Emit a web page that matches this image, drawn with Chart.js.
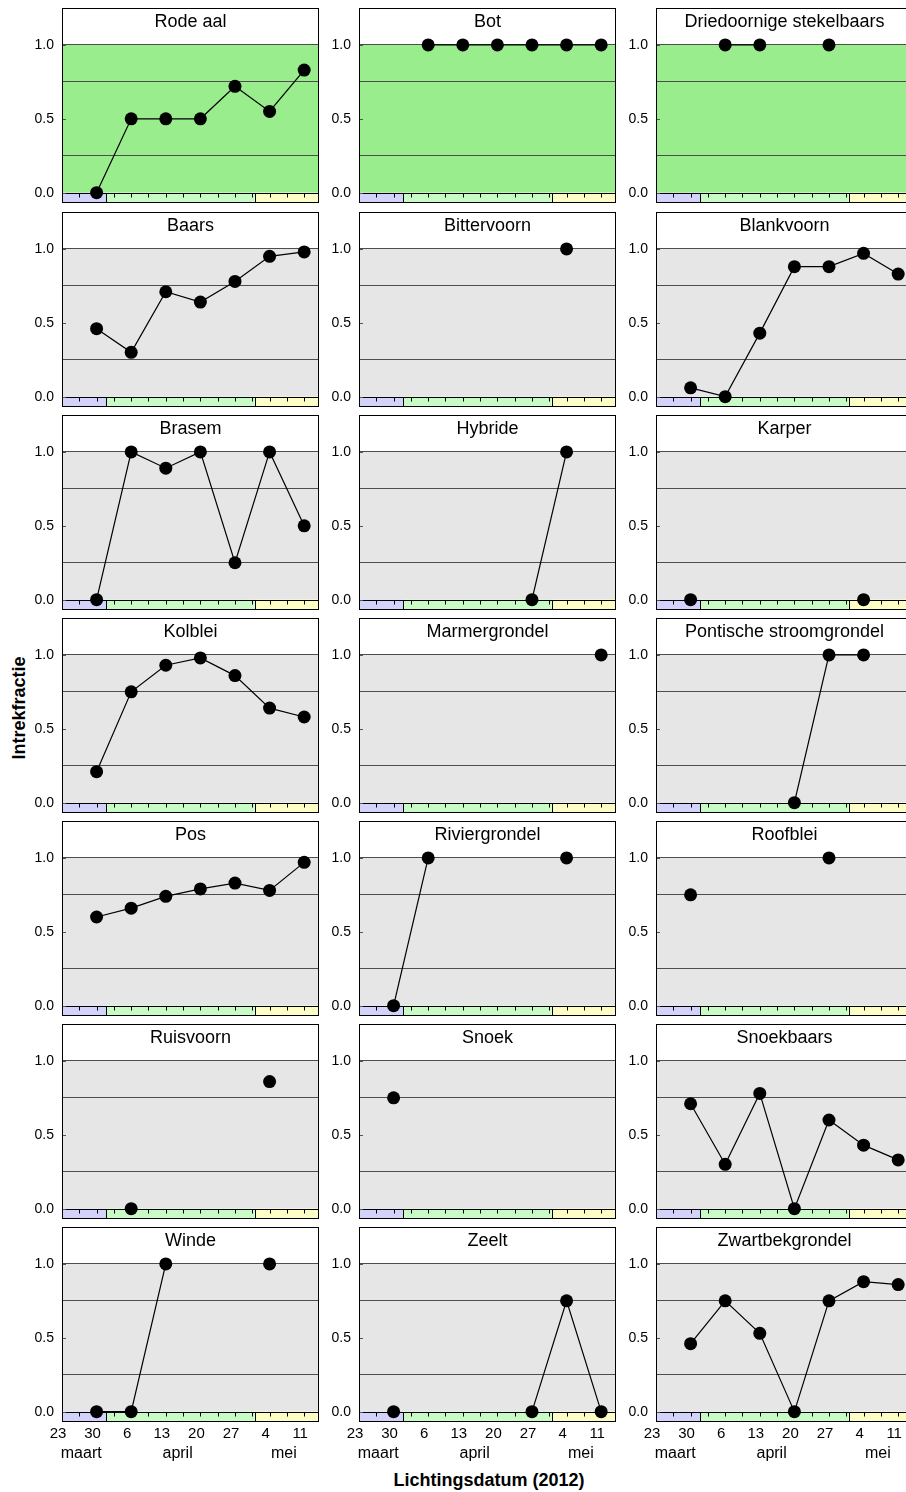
<!DOCTYPE html>
<html>
<head>
<meta charset="utf-8">
<script src="https://cdn.jsdelivr.net/npm/chart.js@4.4.1/dist/chart.umd.min.js"></script>
<style>
  html, body { margin: 0; padding: 0; background: #fff; }
  body { position: relative; width: 906px; height: 1492px; overflow: hidden; }
  canvas.panel { position: absolute; }
  .axis-title {
    position: absolute;
    font: bold 18px "Liberation Sans", Arial, sans-serif;
    color: #000;
    white-space: nowrap;
    transform: translate(-50%, -50%);
  }
  #ytitle { left: 19px; top: 708px; transform: translate(-50%, -50%) rotate(-90deg); }
  #xtitle { left: 489px; top: 1480px; }
</style>
</head>
<body>
<div class="axis-title" id="ytitle">Intrekfractie</div>
<div class="axis-title" id="xtitle">Lichtingsdatum (2012)</div>
<script>
// Sampling dates (weekly catches) and the axis range
const sampleDates = ['2012-03-30', '2012-04-06', '2012-04-13', '2012-04-20', '2012-04-27', '2012-05-04', '2012-05-11'];
const axisStart = '2012-03-23';
const axisEnd = '2012-05-14';
const tickDates = ['2012-03-23', '2012-03-30', '2012-04-06', '2012-04-13', '2012-04-20', '2012-04-27', '2012-05-04', '2012-05-11'];
const tickLabels = ['23', '30', '6', '13', '20', '27', '4', '11'];
const monthNames = ['maart', 'april', 'mei'];
const monthStarts = ['2012-03-23', '2012-04-01', '2012-05-01'];
const yTickLabels = [0, 0.5, 1];

// Species, in panel order
const speciesNames = [
  'Rode aal', 'Bot', 'Driedoornige stekelbaars',
  'Baars', 'Bittervoorn', 'Blankvoorn',
  'Brasem', 'Hybride', 'Karper',
  'Kolblei', 'Marmergrondel', 'Pontische stroomgrondel',
  'Pos', 'Riviergrondel', 'Roofblei',
  'Ruisvoorn', 'Snoek', 'Snoekbaars',
  'Winde', 'Zeelt', 'Zwartbekgrondel'
];
const highlightedSpecies = ['Rode aal', 'Bot', 'Driedoornige stekelbaars'];

// Intrekfractie per sampling date (null = not caught)
const rodeAal = [0, 0.5, 0.5, 0.5, 0.72, 0.55, 0.83];
const bot = [null, 1, 1, 1, 1, 1, 1];
const driedoornigeStekelbaars = [null, 1, 1, null, 1, null, null];
const baars = [0.46, 0.30, 0.71, 0.64, 0.78, 0.95, 0.98];
const bittervoorn = [null, null, null, null, null, 1, null];
const blankvoorn = [0.06, 0, 0.43, 0.88, 0.88, 0.97, 0.83];
const brasem = [0, 1, 0.89, 1, 0.25, 1, 0.5];
const hybride = [null, null, null, null, 0, 1, null];
const karper = [0, null, null, null, null, 0, null];
const kolblei = [0.21, 0.75, 0.93, 0.98, 0.86, 0.64, 0.58];
const marmergrondel = [null, null, null, null, null, null, 1];
const pontischeStroomgrondel = [null, null, null, 0, 1, 1, null];
const pos = [0.60, 0.66, 0.74, 0.79, 0.83, 0.78, 0.97];
const riviergrondel = [0, 1, null, null, null, 1, null];
const roofblei = [0.75, null, null, null, 1, null, null];
const ruisvoorn = [null, 0, null, null, null, 0.86, null];
const snoek = [0.75, null, null, null, null, null, null];
const snoekbaars = [0.71, 0.30, 0.78, 0, 0.60, 0.43, 0.33];
const winde = [0, 0, 1, null, null, 1, null];
const zeelt = [0, null, null, null, 0, 0.75, 0];
const zwartbekgrondel = [0.46, 0.75, 0.53, 0, 0.75, 0.88, 0.86];

const speciesValues = [
  rodeAal, bot, driedoornigeStekelbaars,
  baars, bittervoorn, blankvoorn,
  brasem, hybride, karper,
  kolblei, marmergrondel, pontischeStroomgrondel,
  pos, riviergrondel, roofblei,
  ruisvoorn, snoek, snoekbaars,
  winde, zeelt, zwartbekgrondel
];

// ---- helpers ----
const DAY = 86400000;
const toDay = s => (Date.parse(s) - Date.parse(axisStart)) / DAY;
const axisDays = toDay(axisEnd);
const sampleDays = sampleDates.map(toDay);
const tickDays = tickDates.map(toDay);
const monthBounds = monthStarts.map(toDay).concat([axisDays]);

const FONT = '"Liberation Sans", Arial, sans-serif';
const Y_MIN = -0.07, Y_MAX = 1.25;
const STRIP_COLORS = ['#d2d2fb', '#c9fbc6', '#fdfdc6'];
const PLOT_GREY = '#e6e6e6';
const PLOT_GREEN = '#99ed8c';
const GRID_COLOR = '#4d4d4d';

// Panel decorations: title strip, coloured month strip, frame, month names
const panelDecor = {
  id: 'panelDecor',
  beforeDraw(chart, args, opts) {
    const { ctx, chartArea: a, scales: { x, y } } = chart;
    const y1 = y.getPixelForValue(1), y0 = y.getPixelForValue(0);
    ctx.save();
    ctx.fillStyle = '#fff';
    ctx.fillRect(a.left, a.top, a.right - a.left, y1 - a.top);
    ctx.fillStyle = opts.plotColor;
    ctx.fillRect(a.left, y1, a.right - a.left, y0 - y1);
    for (let m = 0; m < monthNames.length; m++) {
      const xa = x.getPixelForValue(monthBounds[m]);
      const xb = x.getPixelForValue(monthBounds[m + 1]);
      ctx.fillStyle = STRIP_COLORS[m];
      ctx.fillRect(xa, y0, xb - xa, a.bottom - y0);
    }
    ctx.restore();
  },
  beforeDatasetsDraw(chart, args, opts) {
    const { ctx, chartArea: a, scales: { x, y } } = chart;
    const y0 = Math.round(y.getPixelForValue(0)) + 0.5;
    ctx.save();
    ctx.strokeStyle = '#000';
    ctx.lineWidth = 1;
    // small ticks hanging into the month strip, every half week
    ctx.beginPath();
    for (let d = 3.5; d < axisDays; d += 3.5) {
      const px = Math.round(x.getPixelForValue(d)) + 0.5;
      ctx.moveTo(px, y0);
      ctx.lineTo(px, y0 + 4);
    }
    // month dividers
    for (let m = 1; m < monthNames.length; m++) {
      const px = Math.round(x.getPixelForValue(monthBounds[m])) + 0.5;
      ctx.moveTo(px, y0);
      ctx.lineTo(px, a.bottom);
    }
    // zero line
    ctx.moveTo(a.left, y0);
    ctx.lineTo(a.right, y0);
    ctx.stroke();
    // inward y ticks
    ctx.strokeStyle = '#555';
    ctx.beginPath();
    yTickLabels.forEach(v => {
      const py = Math.round(y.getPixelForValue(v)) + 0.5;
      ctx.moveTo(a.left, py);
      ctx.lineTo(a.left + 4, py);
    });
    ctx.stroke();
    // frame
    ctx.strokeStyle = '#000';
    ctx.strokeRect(Math.round(a.left) + 0.5, Math.round(a.top) + 0.5,
      Math.round(a.right - a.left) - 1, Math.round(a.bottom - a.top) - 1);
    // panel title
    ctx.fillStyle = '#000';
    ctx.font = '18px ' + FONT;
    ctx.textAlign = 'center';
    ctx.textBaseline = 'alphabetic';
    ctx.fillText(opts.title, (a.left + a.right) / 2, a.top + 18.5);
    ctx.restore();
  },
  afterDraw(chart, args, opts) {
    if (!opts.showMonths) return;
    const { ctx, chartArea: a, scales: { x } } = chart;
    ctx.save();
    ctx.fillStyle = '#000';
    ctx.font = '16px ' + FONT;
    ctx.textAlign = 'center';
    ctx.textBaseline = 'middle';
    for (let m = 0; m < monthNames.length; m++) {
      const mid = (monthBounds[m] + monthBounds[m + 1]) / 2;
      ctx.fillText(monthNames[m], x.getPixelForValue(mid) - 3, a.bottom + 31.5);
    }
    ctx.restore();
  }
};

const COL_LEFT = [62, 359, 656];
const ROW_TOP0 = 8.3, ROW_PITCH = 203.2;
const FRAME_W = 257, AREA_H = 195;
const LEFT_GUTTER = 50, BOTTOM_AXIS = 60;
const nRows = Math.ceil(speciesNames.length / 3);

speciesNames.forEach((name, i) => {
  const row = Math.floor(i / 3), col = i % 3;
  const isBottom = row === nRows - 1;
  const frameTop = Math.round(ROW_TOP0 + row * ROW_PITCH);
  const canvas = document.createElement('canvas');
  canvas.className = 'panel';
  const w = LEFT_GUTTER + FRAME_W + 10;
  const h = 1 + AREA_H + (isBottom ? BOTTOM_AXIS : 1);
  canvas.width = w; canvas.height = h;
  canvas.style.width = w + 'px'; canvas.style.height = h + 'px';
  canvas.style.left = (COL_LEFT[col] - LEFT_GUTTER) + 'px';
  canvas.style.top = (frameTop - 1) + 'px';
  document.body.appendChild(canvas);

  const values = speciesValues[i];
  new Chart(canvas, {
    type: 'line',
    data: {
      datasets: [{
        data: sampleDays.map((d, k) => ({ x: d, y: values[k] })),
        borderColor: '#000',
        borderWidth: 1.2,
        pointRadius: 6.5,
        pointBackgroundColor: '#000',
        pointBorderWidth: 0,
        spanGaps: false,
        tension: 0,
        clip: false
      }]
    },
    options: {
      responsive: false,
      animation: false,
      devicePixelRatio: 1,
      layout: {
        autoPadding: false,
        padding: { top: 1, right: 10, bottom: isBottom ? 0 : 1, left: 0 }
      },
      plugins: {
        legend: { display: false },
        tooltip: { enabled: false },
        panelDecor: {
          title: name,
          plotColor: highlightedSpecies.includes(name) ? PLOT_GREEN : PLOT_GREY,
          showMonths: isBottom
        }
      },
      scales: {
        x: {
          type: 'linear',
          min: 0,
          max: axisDays,
          display: isBottom,
          grid: { display: false, drawTicks: false },
          border: { display: false },
          afterBuildTicks: s => { s.ticks = tickDays.map(v => ({ value: v })); },
          afterFit: s => {
            s.height = isBottom ? BOTTOM_AXIS : 0;
            s.paddingLeft = 0; s.paddingRight = 0;
          },
          ticks: {
            autoSkip: false,
            maxRotation: 0,
            padding: 3,
            labelOffset: -4,
            color: '#000',
            font: { family: FONT, size: 15 },
            callback: (v, idx) => tickLabels[idx]
          }
        },
        y: {
          min: Y_MIN,
          max: Y_MAX,
          afterBuildTicks: s => { s.ticks = [0, 0.25, 0.5, 0.75, 1].map(v => ({ value: v })); },
          afterFit: s => {
            s.width = LEFT_GUTTER;
            s.paddingTop = 0; s.paddingBottom = 0;
          },
          border: { display: false },
          grid: {
            drawTicks: false,
            lineWidth: 1,
            color: c => (c.tick && (c.tick.value === 0.25 || c.tick.value === 0.75 || c.tick.value === 1)) ? GRID_COLOR : 'rgba(0,0,0,0)'
          },
          ticks: {
            padding: 8,
            color: '#000',
            font: { family: FONT, size: 14 },
            callback: v => yTickLabels.includes(v) ? v.toFixed(1) : ''
          }
        }
      }
    },
    plugins: [panelDecor]
  });
});
</script>
</body>
</html>
